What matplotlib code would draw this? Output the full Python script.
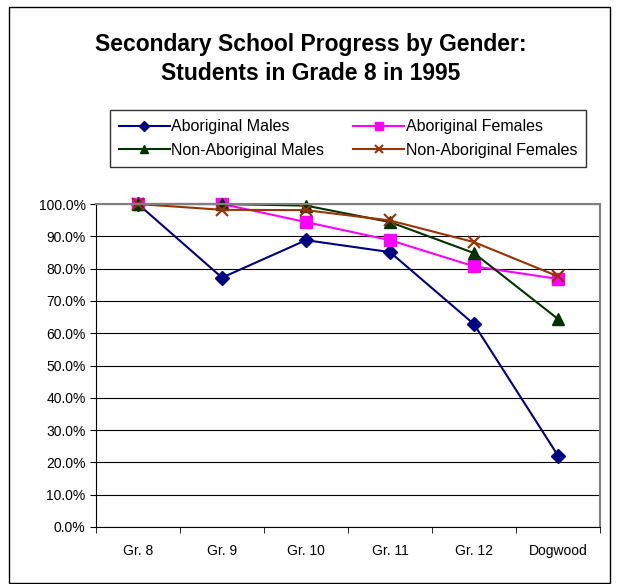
import matplotlib.pyplot as plt
from matplotlib.ticker import PercentFormatter
from matplotlib.patches import Rectangle

categories = ['Gr. 8', 'Gr. 9', 'Gr. 10', 'Gr. 11', 'Gr. 12', 'Dogwood']
abor_males = [100.0, 77.2, 88.8, 85.1, 62.8, 22.1]
abor_females = [100.0, 100.0, 94.4, 88.8, 80.7, 76.8]
non_males = [100.0, 100.0, 99.5, 94.4, 84.8, 64.4]
non_females = [100.0, 98.2, 98.1, 94.9, 88.2, 77.6]

plt.rcParams['font.family'] = ['Liberation Sans', 'DejaVu Sans']

fig = plt.figure(figsize=(6.21, 5.84), dpi=100)
fig.patches.append(Rectangle((9 / 621, 1 - 583 / 584), 601 / 621, 576 / 584,
                             transform=fig.transFigure, fill=False,
                             edgecolor='black', linewidth=1))

ax = fig.add_axes([96 / 621, 57 / 584, 504 / 621, 323 / 584])
x = range(len(categories))
l1, = ax.plot(x, abor_males, color='#000080', marker='D', markersize=7, lw=1.5,
              label='Aboriginal Males', clip_on=False)
l2, = ax.plot(x, abor_females, color='#FF00FF', marker='s', markersize=8, lw=1.5,
              label='Aboriginal Females', clip_on=False)
l3, = ax.plot(x, non_males, color='#003300', marker='^', markersize=9, lw=1.5,
              label='Non-Aboriginal Males', clip_on=False)
l4, = ax.plot(x, non_females, color='#993300', marker='x', markersize=9,
              markeredgewidth=1.5, lw=1.5, label='Non-Aboriginal Females',
              clip_on=False)

ax.set_xlim(-0.5, 5.5)
ax.set_ylim(0, 100)
ax.set_yticks(range(0, 101, 10))
ax.yaxis.set_major_formatter(PercentFormatter(decimals=1))
ax.set_xticks(x)
ax.set_xticklabels(categories)
ax.set_xticks([i - 0.5 for i in range(7)], minor=True)
ax.tick_params(axis='x', which='major', length=0, pad=12, labelsize=10)
ax.tick_params(axis='x', which='minor', length=4, direction='out')
ax.tick_params(axis='y', length=4, direction='out', labelsize=10)
ax.grid(True, axis='y', color='black', linewidth=0.8)
ax.set_axisbelow(True)
for s in ['top', 'right']:
    ax.spines[s].set_color('#808080')
    ax.spines[s].set_linewidth(1.5)

fig.text(0.5, 1 - 45 / 584, 'Secondary School Progress by Gender:', ha='center',
         va='center', fontsize=16.5, fontweight='bold')
fig.text(0.5, 1 - 73 / 584, 'Students in Grade 8 in 1995', ha='center',
         va='center', fontsize=16.5, fontweight='bold')

# row-wise order like the original: matplotlib fills legend columns first
leg = fig.legend(handles=[l1, l3, l2, l4], ncol=2, loc='center',
                 bbox_to_anchor=(348 / 621, 1 - 138.5 / 584), fontsize=11.5,
                 frameon=True, fancybox=False, edgecolor='black',
                 handlelength=3.2, columnspacing=1.8, handletextpad=0.1,
                 borderpad=0.55, labelspacing=0.55, markerscale=0.7)
leg.get_frame().set_linewidth(1)

fig.savefig('out.png', dpi=100)
